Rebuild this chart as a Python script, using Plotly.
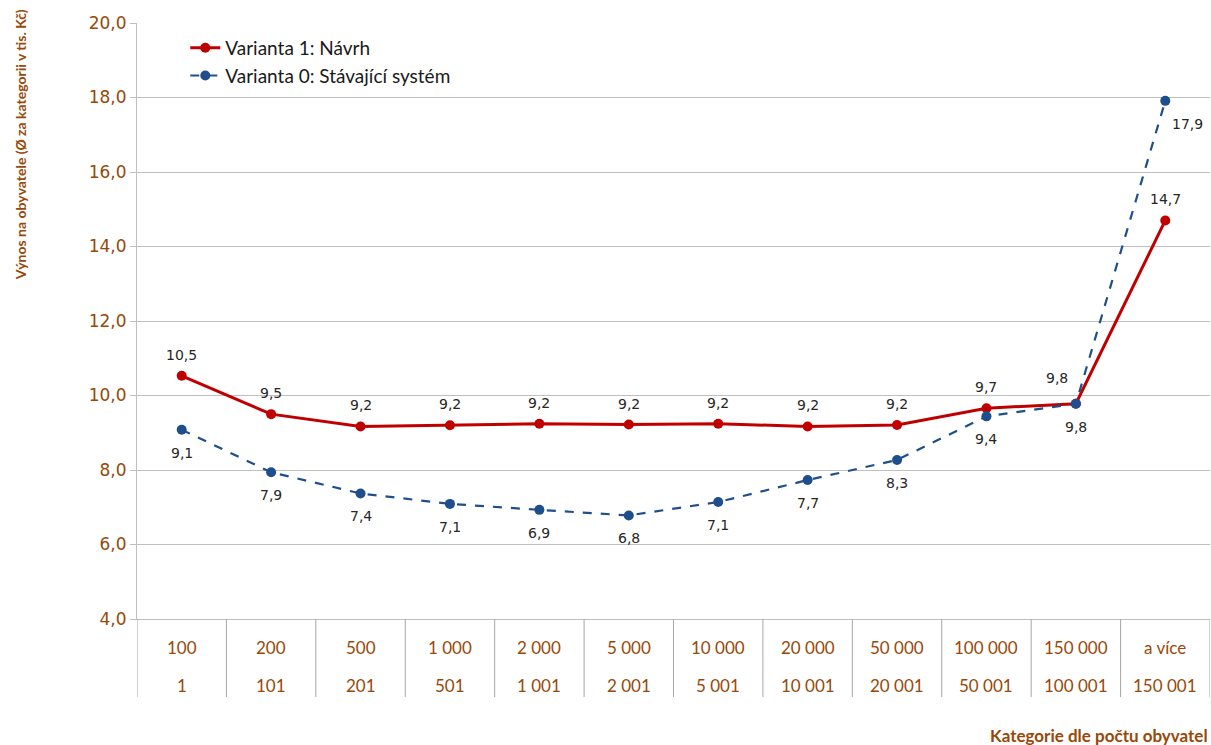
import plotly.graph_objects as go

# ---- data ----
cat_upper = ["100", "200", "500", "1 000", "2 000", "5 000", "10 000", "20 000", "50 000", "100 000", "150 000", "a více"]
cat_lower = ["1", "101", "201", "501", "1 001", "2 001", "5 001", "10 001", "20 001", "50 001", "100 001", "150 001"]
varianta1 = [10.53, 9.50, 9.17, 9.20, 9.24, 9.22, 9.24, 9.17, 9.21, 9.66, 9.78, 14.70]
varianta0 = [9.08, 7.94, 7.37, 7.09, 6.93, 6.78, 7.14, 7.73, 8.27, 9.44, 9.78, 17.91]
name1 = "Varianta 1: Návrh"
name0 = "Varianta 0: Stávající systém"
y_title = "Výnos na obyvatele (Ø za kategorii v tis. Kč)"
x_title = "Kategorie dle počtu obyvatel"

FONT = "Lato"
NUMFONT = "DejaVu Sans"
BROWN = "#984807"
GRID = "#BFBFBF"
SEP = "#A6A6A6"

n = len(cat_upper)
xs = list(range(n))

def fmt(v):
    return f"{v:.1f}".replace(".", ",")

fig = go.Figure()
fig.add_trace(go.Scatter(
    x=xs, y=varianta1, name=name1, mode="lines+markers",
    line=dict(color="#C00000", width=3),
    marker=dict(color="#C00000", size=10),
))
fig.add_trace(go.Scatter(
    x=xs, y=varianta0, name=name0, mode="lines+markers",
    line=dict(color="#1F4E8C", width=2.2, dash="dash"),
    marker=dict(color="#1F4E8C", size=10),
))

table_bottom = -0.131
shapes = []
for k in range(n + 1):
    shapes.append(dict(type="line", xref="x", yref="paper",
                       x0=k - 0.5, x1=k - 0.5, y0=table_bottom, y1=0,
                       line=dict(color=SEP, width=1)))

annotations = []
# data labels
for i in range(n):
    xsh, ysh = 0, 21
    if i == 10:
        xsh, ysh = -19, 26
    annotations.append(dict(x=i, y=varianta1[i], xref="x", yref="y", text=fmt(varianta1[i]),
                            showarrow=False, xshift=xsh, yshift=ysh,
                            font=dict(family=NUMFONT, size=14, color="#262626")))
    xsh, ysh = 0, -23
    if i == 11:
        xsh, ysh = 22, -23
    annotations.append(dict(x=i, y=varianta0[i], xref="x", yref="y", text=fmt(varianta0[i]),
                            showarrow=False, xshift=xsh, yshift=ysh,
                            font=dict(family=NUMFONT, size=14, color="#262626")))
# category table
for i in range(n):
    annotations.append(dict(x=i, y=-0.047, xref="x", yref="paper", text=cat_upper[i],
                            showarrow=False, yanchor="middle",
                            font=dict(family=FONT, size=17, color=BROWN)))
    annotations.append(dict(x=i, y=-0.112, xref="x", yref="paper", text=cat_lower[i],
                            showarrow=False, yanchor="middle",
                            font=dict(family=FONT, size=17, color=BROWN)))
annotations.append(dict(x=-0.109, y=0.795, xref="paper", yref="paper", text="<b>" + y_title + "</b>",
                        textangle=-90, showarrow=False, xanchor="center", yanchor="middle",
                        font=dict(family=FONT, size=14, color=BROWN)))
annotations.append(dict(x=1, y=-0.195, xref="paper", yref="paper", text="<b>" + x_title + "</b>",
                        showarrow=False, xanchor="right", yanchor="middle",
                        font=dict(family=FONT, size=17, color=BROWN)))

fig.update_layout(
    width=1211, height=745,
    margin=dict(l=137, r=1, t=23, b=126),
    paper_bgcolor="white", plot_bgcolor="white",
    separators=", ",
    font=dict(family=FONT),
    showlegend=True,
    legend=dict(x=0.045, y=0.99, xanchor="left", yanchor="top",
                bgcolor="rgba(0,0,0,0)", font=dict(family=FONT, size=19, color="#1a1a1a"),
                tracegroupgap=2),
    xaxis=dict(range=[-0.5, n - 0.5], showticklabels=False, showgrid=False, zeroline=False,
               showline=True, linecolor=GRID, linewidth=1, ticks=""),
    yaxis=dict(range=[4, 20], dtick=2, tickformat=".1f", showgrid=True, gridcolor=GRID,
               gridwidth=1, zeroline=False, showline=True, linecolor=GRID, linewidth=1,
               ticks="outside", ticklen=6, tickcolor=GRID,
               tickfont=dict(family=NUMFONT, size=17, color=BROWN)),
    shapes=shapes,
    annotations=annotations,
)

fig.write_html("out.html", config={"displayModeBar": False},
               post_script="document.body.style.margin='0';document.body.style.overflow='hidden';")
